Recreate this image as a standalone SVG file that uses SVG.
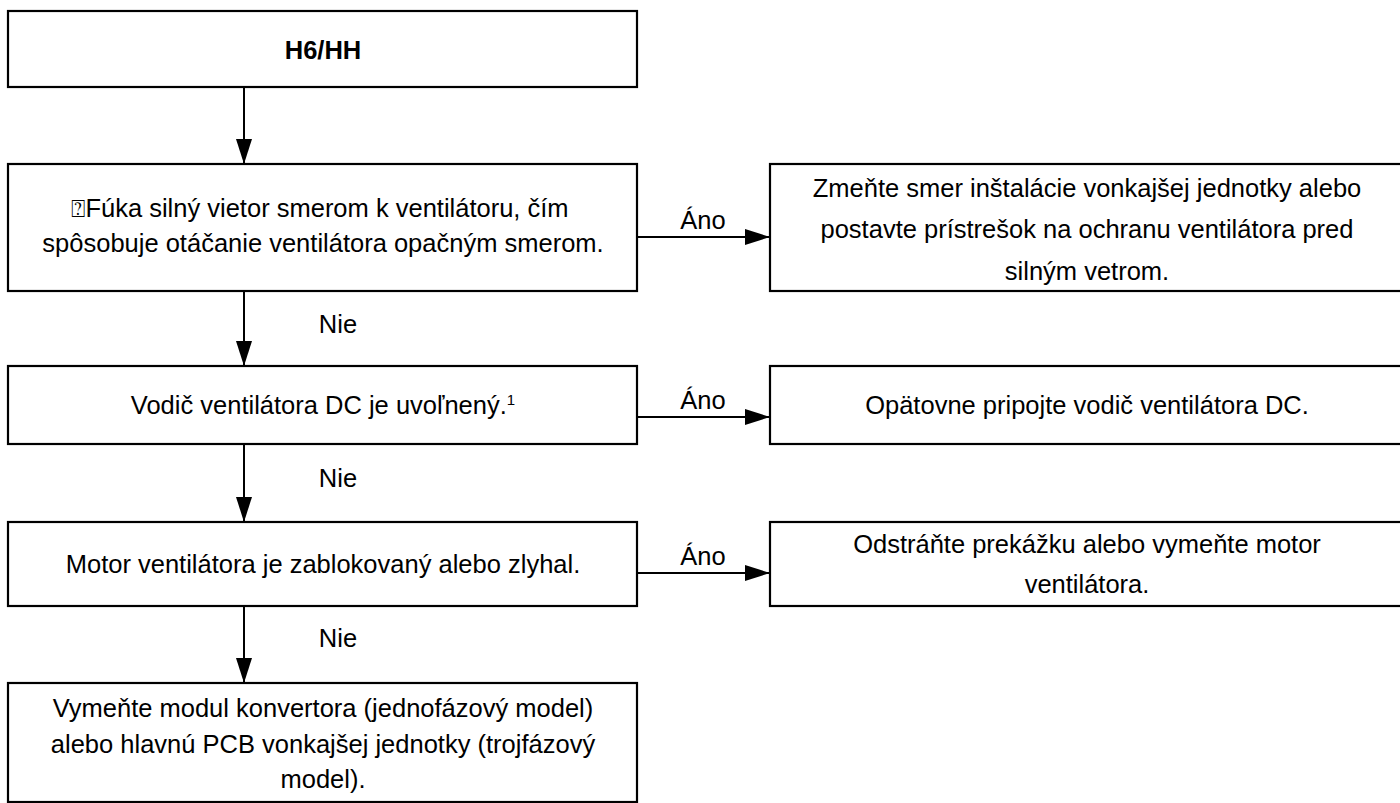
<svg xmlns="http://www.w3.org/2000/svg" width="1400" height="803" viewBox="0 0 1400 803">
<defs>
<marker id="ah" markerUnits="userSpaceOnUse" markerWidth="26" markerHeight="16" viewBox="0 0 26 16" refX="25" refY="8" orient="auto">
<path d="M0,0 L25,8 L0,16 Z" fill="#000"/>
</marker>
<style>
.box{fill:#fff;stroke:#000;stroke-width:2.2}
.t{font-family:"Liberation Sans",Arial,"DejaVu Sans",sans-serif;font-size:25.5px;fill:#000;text-anchor:middle}
.b{font-weight:bold}
.lbl{font-family:"Liberation Sans",Arial,sans-serif;font-size:25.5px;fill:#000;text-anchor:middle}
.c{stroke:#000;stroke-width:2;fill:none;marker-end:url(#ah)}
</style>
</defs>
<rect width="1400" height="803" fill="#fff"/>
<g id="connectors">
<line class="c" x1="244" y1="87" x2="244" y2="164"/>
<line class="c" x1="244" y1="291" x2="244" y2="366"/>
<line class="c" x1="244" y1="444" x2="244" y2="522"/>
<line class="c" x1="244" y1="606" x2="244" y2="683"/>
<line class="c" x1="637" y1="237" x2="770" y2="237"/>
<line class="c" x1="637" y1="417" x2="770" y2="417"/>
<line class="c" x1="637" y1="573" x2="770" y2="573"/>
<text class="lbl" x="703" y="229">Áno</text>
<text class="lbl" x="703" y="409">Áno</text>
<text class="lbl" x="703" y="565">Áno</text>
<text class="lbl" x="338" y="333">Nie</text>
<text class="lbl" x="338" y="487">Nie</text>
<text class="lbl" x="338" y="647">Nie</text>
</g>
<g id="n_start">
<rect class="box" x="8" y="11" width="629" height="76"/>
<text class="t b" x="323" y="59">H6/HH</text>
</g>
<g id="n_wind">
<rect class="box" x="8" y="164" width="629" height="127"/>
<text class="t" x="320" y="217"><tspan font-family="'DejaVu Sans',sans-serif" font-size="24px">⍰</tspan>Fúka silný vietor smerom k ventilátoru, čím</text>
<text class="t" x="323" y="252">spôsobuje otáčanie ventilátora opačným smerom.</text>
</g>
<g id="n_wind_fix">
<rect class="box" x="770" y="164" width="640" height="127"/>
<text class="t" x="1087" y="197">Zmeňte smer inštalácie vonkajšej jednotky alebo</text>
<text class="t" x="1087" y="238">postavte prístrešok na ochranu ventilátora pred</text>
<text class="t" x="1087" y="280">silným vetrom.</text>
</g>
<g id="n_wire">
<rect class="box" x="8" y="366" width="629" height="78"/>
<text class="t" x="323" y="414">Vodič ventilátora DC je uvoľnený.<tspan font-size="15px" dy="-9">1</tspan></text>
</g>
<g id="n_wire_fix">
<rect class="box" x="770" y="366" width="640" height="78"/>
<text class="t" x="1087" y="414">Opätovne pripojte vodič ventilátora DC.</text>
</g>
<g id="n_motor">
<rect class="box" x="8" y="522" width="629" height="84"/>
<text class="t" x="323" y="573">Motor ventilátora je zablokovaný alebo zlyhal.</text>
</g>
<g id="n_motor_fix">
<rect class="box" x="770" y="522" width="640" height="84"/>
<text class="t" x="1087" y="553">Odstráňte prekážku alebo vymeňte motor</text>
<text class="t" x="1087" y="593">ventilátora.</text>
</g>
<g id="n_replace">
<rect class="box" x="8" y="683" width="629" height="119"/>
<text class="t" x="323" y="717">Vymeňte modul konvertora (jednofázový model)</text>
<text class="t" x="323" y="753">alebo hlavnú PCB vonkajšej jednotky (trojfázový</text>
<text class="t" x="323" y="788">model).</text>
</g>
</svg>
